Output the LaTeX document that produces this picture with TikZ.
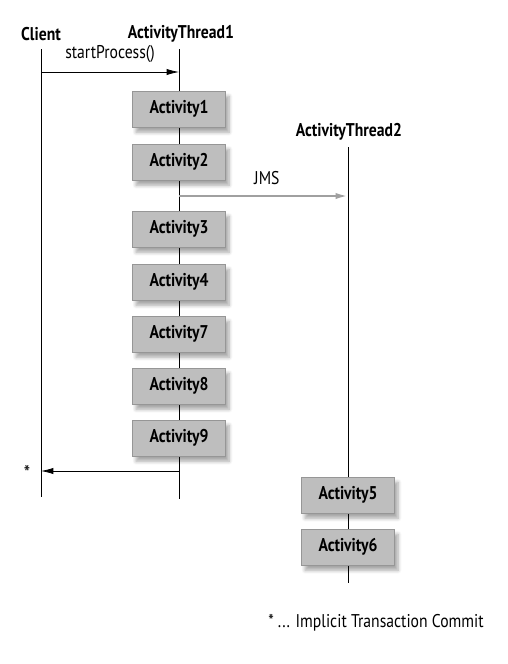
\documentclass[tikz,border=0pt]{standalone}
\usepackage{fontspec}
\setmainfont{PT Sans}[FakeStretch=0.85]
\usepackage{xcolor}
\usetikzlibrary{arrows.meta,shadows.blur,backgrounds}
\begin{document}
\begin{tikzpicture}[x=0.02cm,y=-0.02cm,every node/.style={outer sep=0pt, text=black, font=\bfseries\fontsize{10.5}{12}\selectfont},
act/.style={draw={rgb,255:red,150;green,150;blue,150}, fill={rgb,255:red,190;green,190;blue,190}, minimum width=1.86cm, minimum height=0.72cm, blur shadow={shadow xshift=2pt, shadow yshift=-3pt, shadow blur steps=6, shadow opacity=35}},
msg/.style={-{Latex[length=7pt,width=3.5pt]}},
txt/.style={font=\fontsize{10.5}{12}\selectfont}]
\useasboundingbox (0,0) rectangle (508,664);
\node (client) at (41,34) {Client};
\node (thr1) at (181,34) {ActivityThread1};
\node (thr2) at (349,132) {ActivityThread2};
\node[act] (a1) at (179,109) {Activity1};
\node[act] (a2) at (179,162) {Activity2};
\node[act] (a3) at (179,229) {Activity3};
\node[act] (a4) at (179,282) {Activity4};
\node[act] (a7) at (179,334) {Activity7};
\node[act] (a8) at (179,386) {Activity8};
\node[act] (a9) at (179,438) {Activity9};
\node[act] (a5) at (348,495) {Activity5};
\node[act] (a6) at (348,547) {Activity6};
\coordinate (cEnd) at (41,497);
\coordinate (t1End) at (179,499);
\coordinate (t2Top) at (348,147);
\coordinate (t2End) at (348,583);
\begin{scope}[on background layer]
\draw (41,49) -- (cEnd);
\draw (179,49) -- (t1End);
\draw (t2Top) -- (t2End);
\end{scope}
\coordinate (sp0) at (41,72);
\coordinate (sp1) at (179,72);
\draw[msg] (sp0) -- node[txt,above=2pt] {startProcess()} (sp1);
\coordinate (jms0) at (179,196);
\coordinate (jms1) at (348,196);
\draw[msg,color={rgb,255:red,160;green,160;blue,160},line width=1.2pt] (jms0) -- node[txt,above=3pt,pos=0.52] {JMS} (jms1);
\coordinate (ret0) at (179,471);
\coordinate (ret1) at (41,471);
\draw[msg] (ret0) -- (ret1);
\node[txt] (star) at (27,473) {\large *};
\node[txt] (note) at (376,623) {* ... Implicit Transaction Commit};
\end{tikzpicture}
\end{document}
